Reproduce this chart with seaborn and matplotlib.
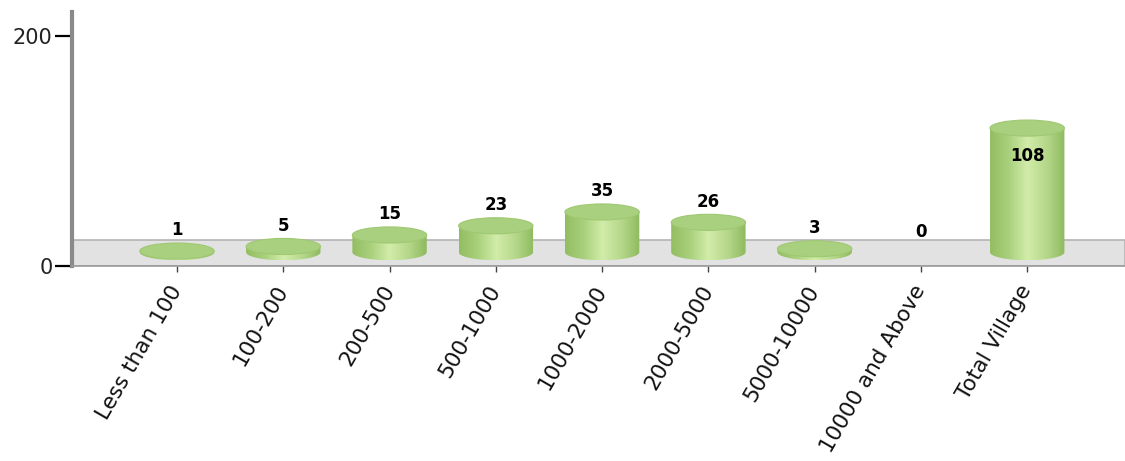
import numpy as np
import matplotlib.pyplot as plt
import seaborn as sns
from matplotlib.patches import Ellipse, PathPatch
from matplotlib.path import Path
from matplotlib.colors import LinearSegmentedColormap

categories = ['Less than 100', '100-200', '200-500', '500-1000', '1000-2000',
              '2000-5000', '5000-10000', '10000 and Above', 'Total Village']
villages = [1, 5, 15, 23, 35, 26, 3, 0, 108]

sns.set_style('white')
plt.rcParams['font.family'] = ['DejaVu Sans']

fig = plt.figure(figsize=(11.25, 4.61), dpi=100)
ax = fig.add_axes([0.064, 0.423, 0.936, 0.551])

sns.barplot(x=categories, y=villages, color='#a8cf7c', width=0.7, ax=ax, zorder=3)

# 3d-ish floor band
base = 12.0
ell_h = 14.0
ax.axhspan(0, 22.5, facecolor='#e2e2e2', edgecolor='#b4b4b4', lw=1.2, zorder=1)

body_cmap = LinearSegmentedColormap.from_list(
    'cyl', ['#93bd62', '#a9d07c', '#d2eca9', '#b6d88b', '#8fba5f'])
grad = np.linspace(0, 1, 256).reshape(1, -1)

for patch, val in zip(ax.patches, villages):
    x0 = patch.get_x()
    w = patch.get_width()
    cx = x0 + w / 2
    patch.set_visible(False)
    if val <= 0:
        continue
    top = base + val
    # body outline: rectangle + bottom half ellipse
    t = np.linspace(np.pi, 2 * np.pi, 60)
    arc = np.column_stack([cx + w / 2 * np.cos(t), base + ell_h / 2 * np.sin(t)])
    verts = np.vstack([[x0, top], arc, [x0 + w, top], [x0, top]])
    body = PathPatch(Path(verts), facecolor='none', edgecolor='none', transform=ax.transData)
    ax.add_patch(body)
    im = ax.imshow(grad, cmap=body_cmap, aspect='auto', interpolation='bicubic',
                   extent=[x0, x0 + w, base - ell_h / 2, top], zorder=4)
    im.set_clip_path(body)
    ax.add_patch(Ellipse((cx, top), w, ell_h, facecolor='#a9d07f',
                         edgecolor='#9fc872', lw=0.8, zorder=5))

vmax = max(villages)
for i, val in enumerate(villages):
    if val == vmax:
        ax.text(i, base + val - 24.5, str(val), ha='center', va='center',
                fontsize=12, fontweight='bold', color='black', zorder=6)
    else:
        ax.text(i, base + val + ell_h / 2 + 11, str(val), ha='center', va='center',
                fontsize=12, fontweight='bold', color='black', zorder=6)

ax.set_xlim(-0.988, 8.92)
ax.set_ylim(0, 221)
ax.set_yticks([0, 200])
ax.set_yticklabels(['0', '200'], fontsize=15, color='#222222')
ax.tick_params(axis='y', direction='out', length=12, width=1.6, color='black', pad=2, left=True)
ax.tick_params(axis='x', direction='out', length=4, width=1, color='#444444', pad=11, bottom=True)
ax.set_xticks(range(len(categories)))
ax.set_xticklabels(categories, rotation=60, ha='right', va='center',
                   rotation_mode='anchor', fontsize=15.5, color='#111111')

for s in ['top', 'right']:
    ax.spines[s].set_visible(False)
ax.spines['left'].set_color('#8a8a8a')
ax.spines['left'].set_linewidth(3)
ax.spines['bottom'].set_color('#9a9a9a')
ax.spines['bottom'].set_linewidth(1.2)

fig.savefig('out.png', dpi=100)
